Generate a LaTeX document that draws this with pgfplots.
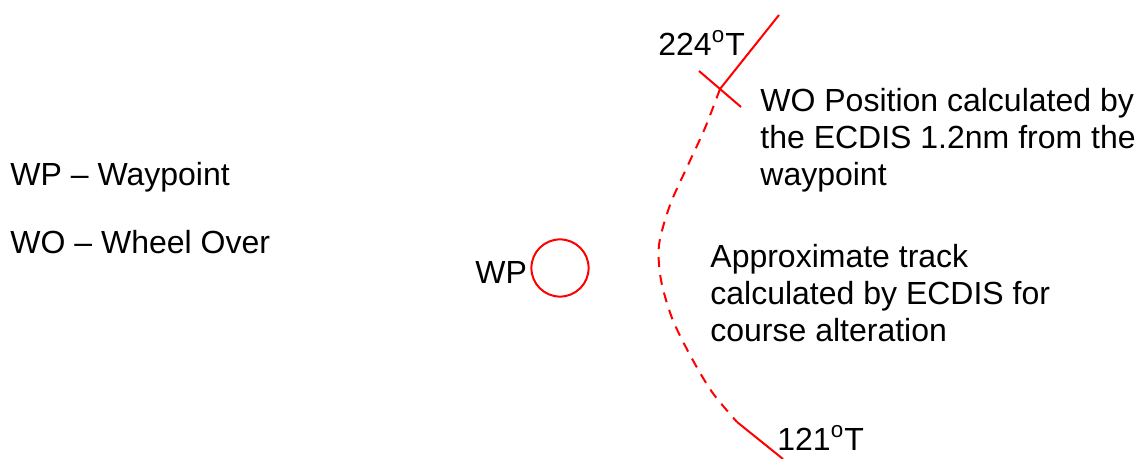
\documentclass[border=0pt]{standalone}
\usepackage{pgfplots}
\pgfplotsset{compat=1.18}
\usepackage{fontspec}
\setmainfont{Liberation Sans}
\tikzset{lbl/.style={font=\fontsize{16}{18.5}\selectfont, inner sep=0pt, text=black, anchor=west}}
\begin{document}
\begin{tikzpicture}
\begin{axis}[
  width=567.5pt, height=229.5pt, scale only axis,
  xmin=0, xmax=1135, ymin=0, ymax=459, y dir=reverse,
  hide axis, clip=false,
]
% incoming leg (224T)
\addplot[red, line width=1pt] coordinates {(779,15) (720,89)};
% wheel-over marker
\addplot[red, line width=1pt] coordinates {(699,71) (741,107)};
% approximate turning track
\addplot[red, line width=1pt, dashed, dash pattern=on 5pt off 4pt, smooth] coordinates {
  (720,89) (705,128) (688,165) (670,205) (659,245) (661,280) (672,318) (690,355) (712,392) (737,422)};
% outgoing leg (121T)
\addplot[red, line width=1pt] coordinates {(737,422) (783,459)};
% waypoint circle
\addplot[red, only marks, mark=o, mark size=14.3pt, mark options={line width=1pt}] coordinates {(560,268)};

\node[lbl] at (axis cs:658,43) {224\textsuperscript{o}T};
\node[lbl] at (axis cs:777,438) {121\textsuperscript{o}T};
\node[lbl, align=left] at (axis cs:760,140) {WO Position calculated by\\the ECDIS 1.2nm from the\\waypoint};
\node[lbl, align=left] at (axis cs:710,293) {Approximate track\\calculated by ECDIS for\\course alteration};
\node[lbl] at (axis cs:10,177) {WP -- Waypoint};
\node[lbl] at (axis cs:10,242) {WO -- Wheel Over};
\node[lbl] at (axis cs:475,272) {WP};
\end{axis}
\pgfresetboundingbox
\useasboundingbox (current axis.south west) rectangle (current axis.north east);
\end{tikzpicture}
\end{document}
